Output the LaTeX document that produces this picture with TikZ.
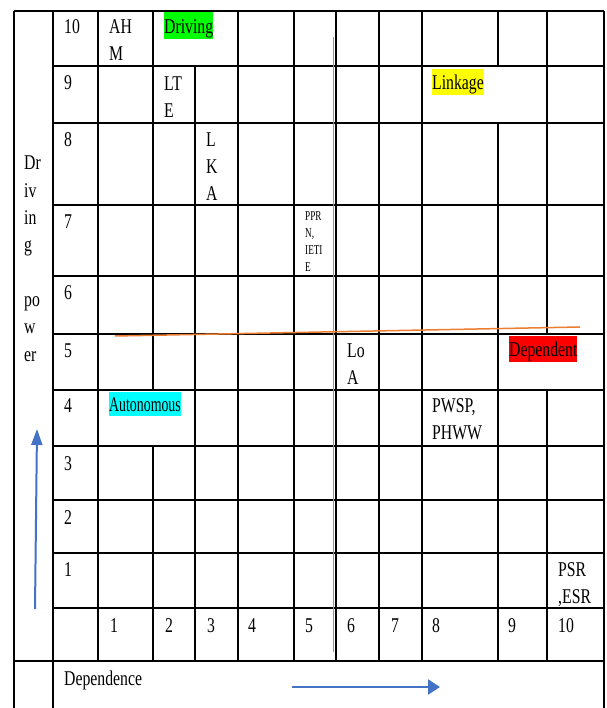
\documentclass[tikz,border=0pt]{standalone}
\usepackage{fontspec}
\setmainfont{Liberation Serif}[FakeStretch=0.75]
\newfontfamily\smallfnt{Liberation Serif}[FakeStretch=0.68]
\newfontfamily\autfnt{Liberation Serif}[FakeStretch=0.66]
\usetikzlibrary{arrows.meta}
\definecolor{orng}{HTML}{ED7D31}
\definecolor{blu}{HTML}{4472C4}
\definecolor{hlgreen}{HTML}{00FF00}
\definecolor{hlyellow}{HTML}{FFFF00}
\definecolor{hlred}{HTML}{FF0000}
\definecolor{hlcyan}{HTML}{00FFFF}
\newcommand{\ml}[1]{\begin{tabular}[t]{@{}l@{}}#1\end{tabular}}
\begin{document}
\begin{tikzpicture}[x=1pt,y=-1pt,
  hline/.style={line width=1.6pt,black},
  vline/.style={line width=1.1pt,black},
  lbl/.style={anchor=base west,inner sep=0pt,font=\fontsize{21}{27}\selectfont},
  hl/.style={lbl,text height=21pt,text depth=5.5pt},
  smalllbl/.style={lbl,font=\smallfnt\fontsize{13.5}{17}\selectfont},
  bluearrow/.style={blu,line width=2pt},
  orangeline/.style={orng}
]
\useasboundingbox (0,0) rectangle (606,708);
% horizontal grid lines
\draw[hline] (14,11) -- (604,11);
\foreach \y in {66,123,205,276,334,390,446,500,553,608}
  \draw[hline] (53,\y) -- (604,\y);
\draw[hline] (14,661) -- (604,661);
% outer vertical lines
\foreach \x in {14,53,604}
  \draw[vline] (\x,11) -- (\x,708);
% interior vertical lines
\foreach \x in {98,238,294,336,379,422}
  \draw[vline] (\x,11) -- (\x,661);
\draw[vline] (153,11) -- (153,390);
\draw[vline] (153,446) -- (153,661);
\draw[vline] (195,66) -- (195,661);
\draw[vline] (498,11) -- (498,66);
\draw[vline] (498,123) -- (498,661);
\draw[vline] (547,11) -- (547,334);
\draw[vline] (547,390) -- (547,661);

% row labels
\node[lbl] (r10) at (64,34) {10};
\node[lbl] (r9) at (64,90) {9};
\node[lbl] (r8) at (64,146.5) {8};
\node[lbl] (r7) at (64,229) {7};
\node[lbl] (r6) at (64,299) {6};
\node[lbl] (r5) at (64,357) {5};
\node[lbl] (r4) at (64,412) {4};
\node[lbl] (r3) at (64,470) {3};
\node[lbl] (r2) at (64,524) {2};
\node[lbl] (r1) at (64,576) {1};

% column labels
\node[lbl] (c1) at (110,632) {1};
\node[lbl] (c2) at (165,632) {2};
\node[lbl] (c3) at (207,632) {3};
\node[lbl] (c4) at (248,632) {4};
\node[lbl] (c5) at (305,632) {5};
\node[lbl] (c6) at (347,632) {6};
\node[lbl] (c7) at (391,632) {7};
\node[lbl] (c8) at (432,632) {8};
\node[lbl] (c9) at (508,632) {9};
\node[lbl] (c10) at (558,632) {10};

% axis titles
\node[lbl,font=\fontsize{21}{27.3}\selectfont] (dp) at (24,170) {\ml{Dr\\iv\\in\\g\\ \\po\\w\\er}};
\node[lbl] (dep) at (64,685) {Dependence};

% entries
\node[lbl] (ahm) at (109,34) {\ml{AH\\M}};
\node[lbl] (lte) at (164,90.5) {\ml{LT\\E}};
\node[lbl] (lka) at (206,146.5) {\ml{L\\K\\A}};
\node[smalllbl] (pprn) at (305,221) {\ml{PPR\\N,\\IETI\\E}};
\node[lbl] (loa) at (347,357) {\ml{Lo\\A}};
\node[lbl] (pwsp) at (432,412.5) {\ml{PWSP,\\PHWW}};
\node[lbl] (psr) at (558,576) {\ml{PSR\\,ESR}};

% highlighted region names
\node[hl,fill=hlgreen] (drv) at (164,33.5) {Driving};
\node[hl,fill=hlyellow] (lnk) at (432,90) {Linkage};
\node[hl,fill=hlred] (dpd) at (509,356.5) {Dependent};
\node[hl,fill=hlcyan,text height=19.5pt,text depth=4.5pt,font=\autfnt\fontsize{21}{27}\selectfont] (aut) at (109,411) {Autonomous};

% orange dividing lines
\coordinate (oh0) at (115,336);
\coordinate (oh1) at (580,327);
\draw[orangeline,line width=1.5pt] (oh0) -- (oh1);
\coordinate (ov0) at (333,37);
\coordinate (ov1) at (333,652);
\draw[orangeline,line width=0.9pt] (ov0) -- (ov1);

% blue arrows
\coordinate (va0) at (35,609);
\coordinate (va1) at (37,429);
\draw[bluearrow,-{Triangle[length=16pt,width=11pt]}] (va0) -- (va1);
\coordinate (ha0) at (292,687);
\coordinate (ha1) at (440,687);
\draw[bluearrow,line width=2.3pt,-{Triangle[length=12pt,width=15pt]}] (ha0) -- (ha1);
\end{tikzpicture}
\end{document}
